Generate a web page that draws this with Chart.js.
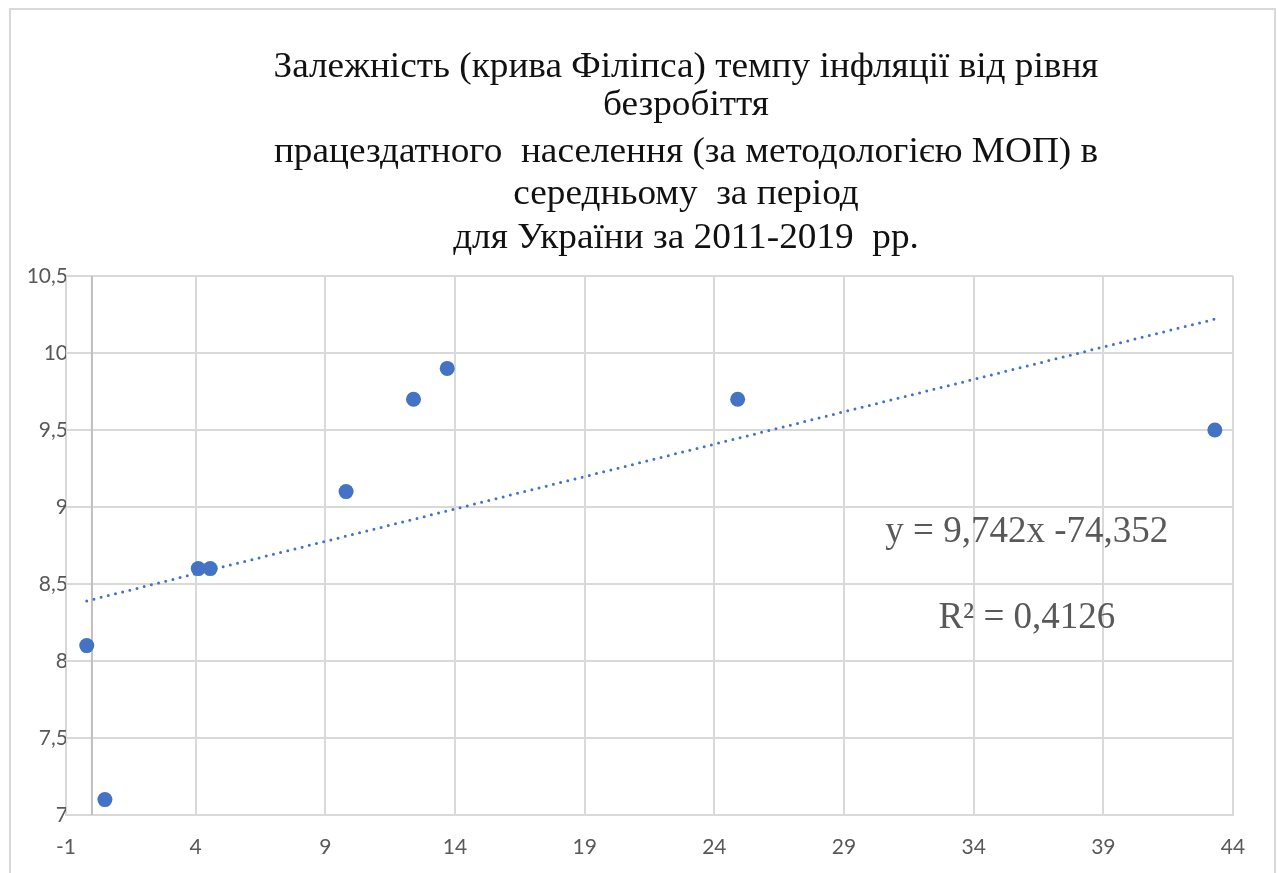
<!DOCTYPE html>
<html>
<head>
<meta charset="utf-8">
<script src="https://cdn.jsdelivr.net/npm/chart.js@4.4.1/dist/chart.umd.min.js"></script>
<style>
  html, body { margin: 0; padding: 0; background: #fff; overflow: hidden; }
  #frame { position: absolute; left: 9px; top: 8px; width: 1263px; height: 900px;
           border: 2px solid #d9d9d9; background: #fff; }
  #wrap { position: absolute; left: 0; top: 0; width: 1263px; height: 863px; }
</style>
</head>
<body>
<div id="frame"><div id="wrap"><canvas id="c"></canvas></div></div>
<script>
// ---- data ----
const inflationX    = [-0.2, 0.5, 4.1, 4.56, 9.8, 12.4, 13.7, 24.9, 43.3];
const unemploymentY = [8.1, 7.1, 8.6, 8.6, 9.1, 9.7, 9.9, 9.7, 9.5];
const trendX = [-0.2, 43.3];
const trendY = [8.39, 10.22];
const xTickValues = [-1, 4, 9, 14, 19, 24, 29, 34, 39, 44];
const yTickValues = [7, 7.5, 8, 8.5, 9, 9.5, 10, 10.5];
const titleLines = [
  'Залежність (крива Філіпса) темпу інфляції від рівня',
  'безробіття',
  'працездатного  населення (за методологією МОП) в',
  'середньому  за період',
  'для України за 2011-2019  рр.'
];
const equationLines = ['y = 9,742x -74,352', 'R² = 0,4126'];

const pointData = inflationX.map((x, i) => ({ x: x, y: unemploymentY[i] }));
const trendData = trendX.map((x, i) => ({ x: x, y: trendY[i] }));

const fmt = v => String(v).replace('.', ',');

const decorPlugin = {
  id: 'decor',
  beforeDatasetsDraw(chart) {
    const { ctx, chartArea, scales } = chart;
    const x0 = scales.x.getPixelForValue(0);
    ctx.save();
    ctx.strokeStyle = '#bfbfbf';
    ctx.lineWidth = 2;
    ctx.beginPath();
    ctx.moveTo(x0, chartArea.top);
    ctx.lineTo(x0, chartArea.bottom);
    ctx.stroke();
    ctx.restore();
  },
  afterDraw(chart) {
    const { ctx, scales } = chart;
    ctx.save();
    // title
    const titleBaselines = [67, 105, 152, 194, 238];
    const cx = 675;
    ctx.fillStyle = '#111';
    ctx.font = '36px "Liberation Serif", "Times New Roman", serif';
    ctx.textAlign = 'center';
    ctx.textBaseline = 'alphabetic';
    const sx = 825 / ctx.measureText(titleLines[0]).width;
    titleLines.forEach((t, i) => {
      ctx.save();
      ctx.translate(cx, titleBaselines[i]);
      ctx.scale(sx, 1);
      ctx.fillText(t, 0, 0);
      ctx.restore();
    });
    // regression labels
    ctx.fillStyle = '#595959';
    ctx.font = '37px "Liberation Serif", "Times New Roman", serif';
    const ex = scales.x.getPixelForValue(36.05);
    ctx.fillText(equationLines[0], ex, scales.y.getPixelForValue(8.773));
    ctx.fillText(equationLines[1], ex, scales.y.getPixelForValue(8.214));
    ctx.restore();
  }
};

new Chart(document.getElementById('c'), {
  type: 'scatter',
  data: {
    datasets: [
      {
        label: 'data',
        data: pointData,
        backgroundColor: '#4472c4',
        borderColor: '#4472c4',
        borderWidth: 0,
        pointRadius: 7.5,
        showLine: false
      },
      {
        label: 'trend',
        data: trendData,
        showLine: true,
        borderColor: '#4472c4',
        borderWidth: 3,
        borderDash: [0, 7.4],
        borderCapStyle: 'round',
        pointRadius: 0,
        fill: false
      }
    ]
  },
  options: {
    responsive: true,
    maintainAspectRatio: false,
    animation: false,
    layout: { padding: { left: 0, right: 41, top: 266, bottom: 0 } },
    plugins: { legend: { display: false }, tooltip: { enabled: false }, title: { display: false } },
    scales: {
      x: {
        type: 'linear',
        min: -1, max: 44,
        afterBuildTicks: s => { s.ticks = xTickValues.map(v => ({ value: v })); },
        afterFit: s => { s.height = 58; },
        grid: { color: '#d9d9d9', lineWidth: 2, drawTicks: false },
        border: { color: '#d9d9d9', width: 2 },
        ticks: { color: '#595959', font: { family: 'Lato', size: 21 }, padding: 20, callback: v => fmt(v) }
      },
      y: {
        type: 'linear',
        min: 7, max: 10.5,
        afterBuildTicks: s => { s.ticks = yTickValues.map(v => ({ value: v })); },
        afterFit: s => { s.width = 55; },
        grid: { color: '#d9d9d9', lineWidth: 2, drawTicks: false },
        border: { color: '#d9d9d9', width: 2 },
        ticks: { color: '#595959', font: { family: 'Lato', size: 21 }, padding: -2, callback: v => fmt(v) }
      }
    }
  },
  plugins: [decorPlugin]
});
</script>
</body>
</html>
